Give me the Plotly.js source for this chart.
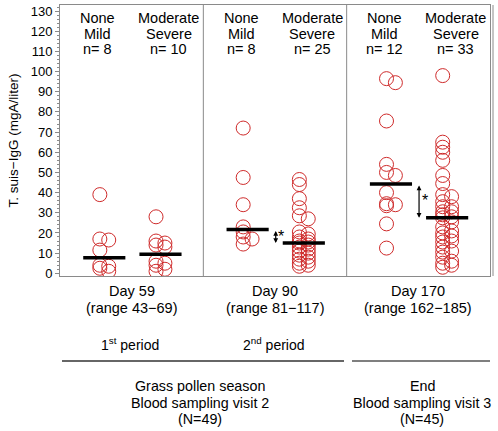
<!DOCTYPE html>
<html>
<head>
<meta charset="utf-8">
<script src="https://cdn.plot.ly/plotly-3.0.1.min.js"></script>
<style>html,body{margin:0;padding:0;background:#fff;}#chart{width:498px;height:431px;}</style>
</head>
<body>
<div id="chart"></div>
<script>
// ---- data ----
const dayLabels = ['Day 59', 'Day 90', 'Day 170'];
const rangeLabels = ['(range 43\u221269)', '(range 81\u2212117)', '(range 162\u2212185)'];
const groupLabels = [['None', 'Mild'], ['Moderate', 'Severe']];
const d59_noneMild = [39, 17, 16.5, 11.5, 4, 3.5, 2.5, 1];
const d59_modSevere = [28, 16, 15, 14, 13, 6, 5, 4, 2, 1];
const d90_noneMild = [72, 47.5, 34, 23, 20.5, 18, 17, 14.5];
const d90_modSevere = [46.5, 44, 37, 32.5, 28.5, 27, 20.5, 19.5, 18, 17, 16, 15.5, 15, 14, 13, 12, 11, 10, 9, 8, 7, 6, 5, 4, 3.5];
const d170_noneMild = [96.5, 94.5, 75.5, 54, 50, 48.5, 40, 34.5, 34, 33.5, 24.5, 12.5];
const d170_modSevere = [98, 65, 62.5, 60, 56, 48.5, 44.5, 39, 38, 35.5, 33, 33, 30.5, 30.5, 29, 28, 27.5, 25.5, 23, 21, 20, 18.5, 18, 16, 15.5, 13, 11, 10.5, 8, 6, 5, 4, 3];
const significantPanels = [1, 2];
const periodLabels = ['1<sup>st</sup> period', '2<sup>nd</sup> period'];
const seasonLabels = ['Grass pollen season', 'Blood sampling visit 2', '(N=49)'];
const endLabels = ['End', 'Blood sampling visit 3', '(N=45)'];

const panelData = [
  [d59_noneMild, d59_modSevere],
  [d90_noneMild, d90_modSevere],
  [d170_noneMild, d170_modSevere]
];

// ---- helpers ----
const FONT = 'Liberation Sans, Arial, Helvetica, sans-serif';
const RED = '#cf2b2b';
const FRAME = '#8a8a8a';
const sideOffset = [0.278, 0.670];
const labelOffset = [0.265, 0.760];
const colStep = 0.062;
const barShift = 0.031, barHalf = 0.147;

function median(arr) {
  const s = arr.slice().sort((a, b) => a - b);
  const n = s.length;
  return n % 2 ? s[(n - 1) / 2] : (s[n / 2 - 1] + s[n / 2]) / 2;
}
function columns(values, gap) {
  const order = values.map((v, i) => i).sort((a, b) => values[b] - values[a]);
  const placed = [[], []];
  const col = new Array(values.length).fill(0);
  order.forEach(i => {
    const v = values[i];
    const near = placed.map(list => list.length ? Math.min(...list.map(u => Math.abs(u - v))) : Infinity);
    let c;
    if (near[0] >= gap) c = 0;
    else if (near[1] >= gap) c = 1;
    else c = near[1] > near[0] ? 1 : 0;
    placed[c].push(v);
    col[i] = c;
  });
  return col;
}
const pyToPaper = py => (276 - py) / 271;
const pxToPaper = px => (px - 60) / 430;

const traces = [];
const annotations = [];
const medians = [];

panelData.forEach((pair, p) => {
  medians.push([]);
  pair.forEach((vals, s) => {
    const base = p + sideOffset[s];
    const cols = columns(vals, 2.2);
    traces.push({
      type: 'scatter', mode: 'markers',
      x: vals.map((v, i) => base + cols[i] * colStep),
      y: vals,
      marker: {symbol: 'circle-open', size: 14, color: RED, line: {width: 1}},
      hoverinfo: 'y', showlegend: false
    });
    const m = median(vals);
    medians[p].push(m);
    traces.push({
      type: 'scatter', mode: 'lines',
      x: [base + barShift - barHalf, base + barShift + barHalf],
      y: [m, m],
      line: {color: '#000', width: 3.5},
      hoverinfo: 'skip', showlegend: false
    });
    const lines = [groupLabels[s][0], groupLabels[s][1], 'n= ' + vals.length];
    const ys = [18, 33.5, 49];
    lines.forEach((t, k) => annotations.push({
      text: t, xref: 'x', yref: 'paper', x: p + labelOffset[s], y: pyToPaper(ys[k]),
      xanchor: 'center', yanchor: 'middle', showarrow: false,
      font: {family: FONT, size: 14.5, color: '#000'}
    }));
  });
  annotations.push({
    text: dayLabels[p], xref: 'x', yref: 'paper', x: p + 0.5, y: pyToPaper(291),
    xanchor: 'center', yanchor: 'middle', showarrow: false,
    font: {family: FONT, size: 14.5, color: '#000'}
  });
  annotations.push({
    text: rangeLabels[p], xref: 'x', yref: 'paper', x: p + 0.5, y: pyToPaper(307.5),
    xanchor: 'center', yanchor: 'middle', showarrow: false,
    font: {family: FONT, size: 14.5, color: '#000'}
  });
});

significantPanels.forEach(p => {
  const [m1, m2] = medians[p];
  annotations.push({
    text: '', xref: 'x', yref: 'y', axref: 'x', ayref: 'y',
    x: p + 0.505, y: m2, ax: p + 0.505, ay: m1,
    showarrow: true, arrowhead: 2, arrowside: 'end+start', arrowsize: 0.8,
    arrowwidth: 1.2, arrowcolor: '#000', standoff: 0, startstandoff: 0
  });
  annotations.push({
    text: '*', xref: 'x', yref: 'y', x: p + 0.545, y: (m1 + m2) / 2,
    xanchor: 'center', yanchor: 'middle', showarrow: false,
    font: {family: FONT, size: 16, color: '#000'}
  });
});

periodLabels.forEach((t, i) => annotations.push({
  text: t, xref: 'x', yref: 'paper', x: i + 0.49, y: pyToPaper(344),
  xanchor: 'center', yanchor: 'middle', showarrow: false,
  font: {family: FONT, size: 14, color: '#000'}
}));
const blockY = [386, 402.5, 419];
seasonLabels.forEach((t, k) => annotations.push({
  text: t, xref: 'paper', yref: 'paper', x: pxToPaper(200), y: pyToPaper(blockY[k]),
  xanchor: 'center', yanchor: 'middle', showarrow: false,
  font: {family: FONT, size: 14.3, color: '#000'}
}));
endLabels.forEach((t, k) => annotations.push({
  text: t, xref: 'paper', yref: 'paper', x: pxToPaper(422), y: pyToPaper(blockY[k]),
  xanchor: 'center', yanchor: 'middle', showarrow: false,
  font: {family: FONT, size: 14.3, color: '#000'}
}));
annotations.push({
  text: 'T. suis\u2212IgG (mgA/liter)', xref: 'paper', yref: 'paper',
  x: pxToPaper(13), y: 0.5, textangle: -90, xanchor: 'center', yanchor: 'middle',
  showarrow: false, font: {family: FONT, size: 13.5, color: '#000'}
});

const shapes = [
  {type: 'line', xref: 'x', yref: 'paper', x0: 1, x1: 1, y0: 0, y1: 1, line: {color: FRAME, width: 1}},
  {type: 'line', xref: 'x', yref: 'paper', x0: 2, x1: 2, y0: 0, y1: 1, line: {color: FRAME, width: 1}},
  {type: 'line', xref: 'paper', yref: 'paper', x0: 1.007, x1: 1.007, y0: 0, y1: 1, line: {color: FRAME, width: 1}},
  {type: 'line', xref: 'paper', yref: 'paper', x0: pxToPaper(62), x1: pxToPaper(344), y0: pyToPaper(361), y1: pyToPaper(361), line: {color: '#333', width: 1.3}},
  {type: 'line', xref: 'paper', yref: 'paper', x0: pxToPaper(352), x1: pxToPaper(490), y0: pyToPaper(361), y1: pyToPaper(361), line: {color: '#555', width: 1.3}}
];

const layout = {
  width: 498, height: 431,
  margin: {l: 60, r: 8, t: 5, b: 155, pad: 0},
  paper_bgcolor: '#fff', plot_bgcolor: '#fff',
  showlegend: false,
  xaxis: {range: [0, 3], showgrid: false, zeroline: false, showticklabels: false, ticks: '',
          showline: true, mirror: true, linecolor: FRAME, linewidth: 1, fixedrange: true},
  yaxis: {range: [-1.34, 133], tick0: 0, dtick: 10, ticks: 'outside', ticklen: 4, tickcolor: FRAME,
          minor: {dtick: 2, ticks: 'outside', ticklen: 2, tickcolor: FRAME},
          showgrid: false, zeroline: false, showline: true, mirror: true, linecolor: FRAME, linewidth: 1,
          tickfont: {family: FONT, size: 13, color: '#000'}, fixedrange: true},
  annotations: annotations,
  shapes: shapes
};

Plotly.newPlot('chart', traces, layout, {displayModeBar: false, staticPlot: true});
</script>
</body>
</html>
